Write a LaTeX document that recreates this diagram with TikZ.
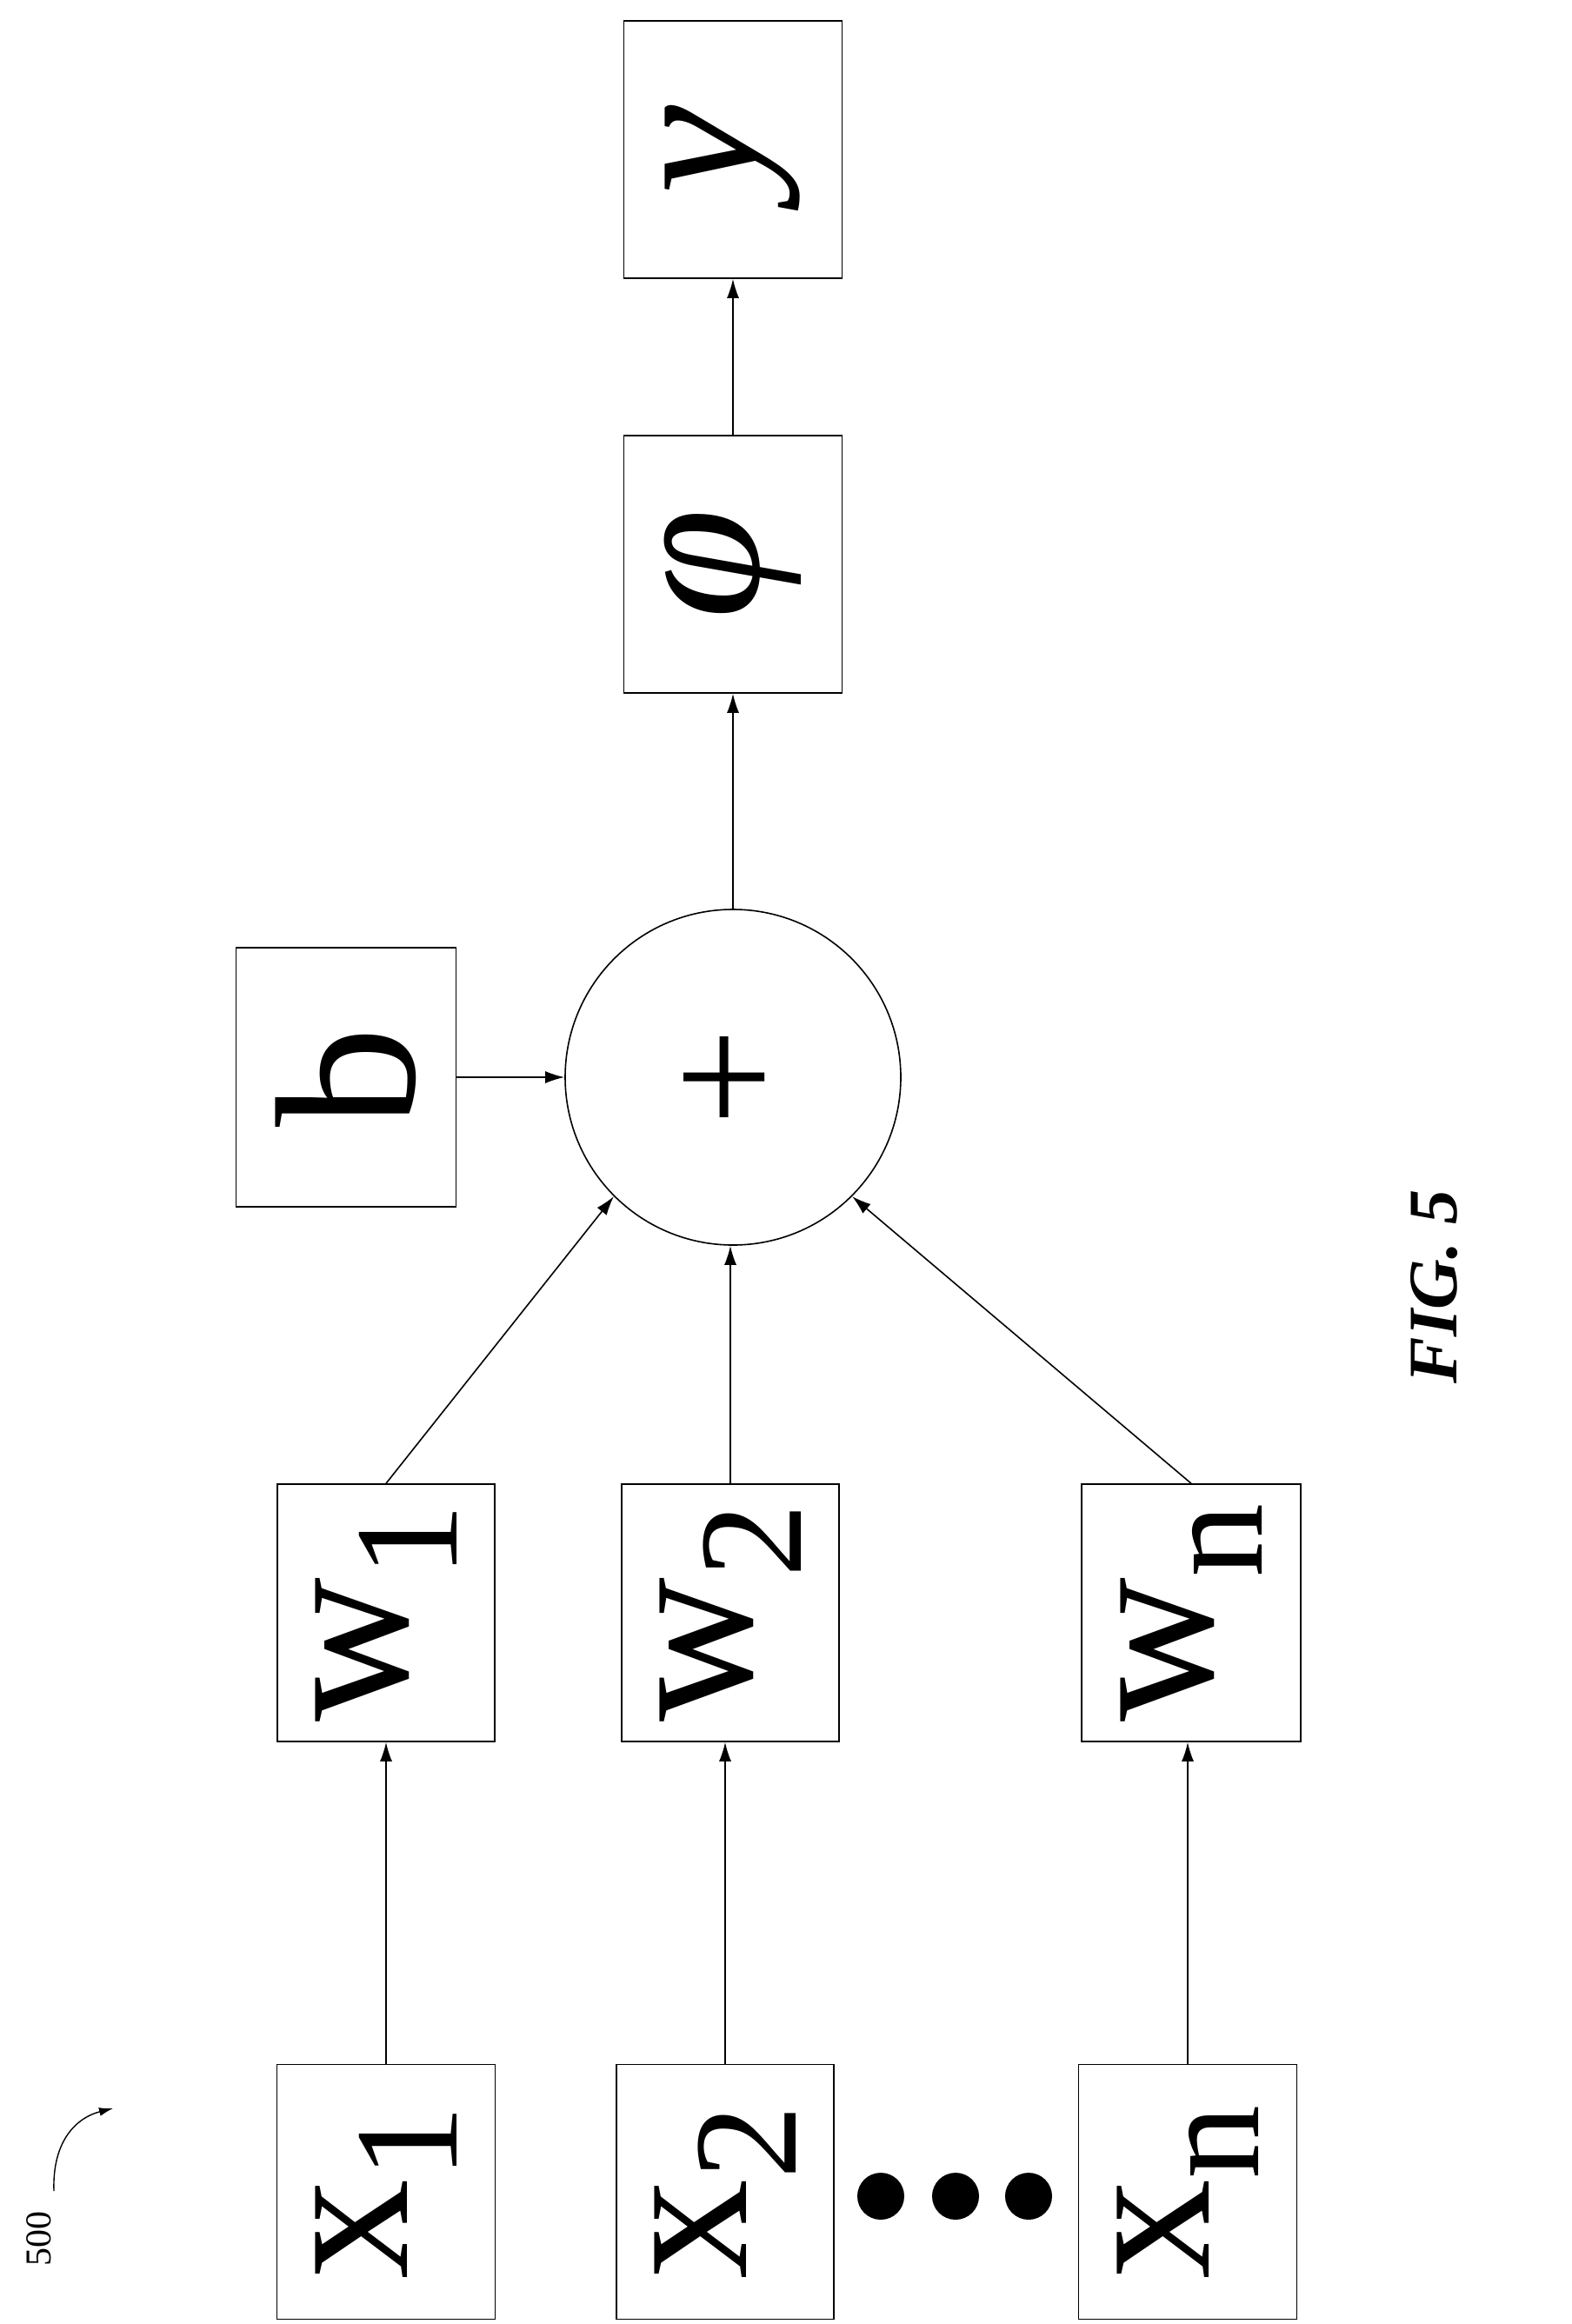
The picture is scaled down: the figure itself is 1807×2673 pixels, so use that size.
\documentclass[tikz,border=0pt]{standalone}
\usepackage{fontspec}
\setmainfont{Liberation Serif}
\usetikzlibrary{arrows.meta}
\begin{document}
\begin{tikzpicture}[x=1pt,y=-1pt,
  box/.style={draw,line width=1.6pt,inner sep=0pt},
  lbl/.style={rotate=90,font=\fontsize{230}{230}\selectfont},
  arr/.style={-{Latex[length=22pt,width=14pt]},line width=1.6pt}]
\useasboundingbox (0,0) rectangle (1807,2673);
\newcommand{\sbx}[1]{\raisebox{-0.25em}{\fontsize{170}{170}\selectfont #1}}
% boxes
\node[box,minimum width=251pt,minimum height=296pt] (y) at (843,172) {};
\node[box,minimum width=251pt,minimum height=296pt] (phi) at (843,649) {};
\node[box,circle,minimum size=386pt] (sum) at (843,1239) {};
\node[box,minimum width=253pt,minimum height=298pt] (b) at (398,1239) {};
\node[box,minimum width=250pt,minimum height=296pt] (w1) at (444,1855) {};
\node[box,minimum width=250pt,minimum height=296pt] (w2) at (840,1855) {};
\node[box,minimum width=252pt,minimum height=296pt] (wn) at (1370,1855) {};
\node[box,minimum width=251pt,minimum height=293pt] (x1) at (444,2521) {};
\node[box,minimum width=250pt,minimum height=293pt] (x2) at (834,2521) {};
\node[box,minimum width=251pt,minimum height=293pt] (xn) at (1366,2521) {};
% labels
\node[lbl] at (y) {\itshape y};
\node[lbl] at (phi) {\itshape φ};
\node[lbl,font=\fontsize{200}{200}\selectfont] at (sum) {+};
\node[lbl] at (b) {b};
\node[lbl] at (w1) {w\sbx{1}};
\node[lbl] at (w2) {w\sbx{2}};
\node[lbl] at (wn) {w\sbx{n}};
\node[lbl] at (x1) {x\sbx{1}};
\node[lbl] at (x2) {x\sbx{2}};
\node[lbl] at (xn) {x\sbx{n}};
% dots
\fill (1013,2526) circle (27);
\fill (1099,2526) circle (27);
\fill (1183,2526) circle (27);
% connectors
\draw[arr] (x1.north) -- (x1.north |- w1.south);
\draw[arr] (x2.north) -- (x2.north |- w2.south);
\draw[arr] (xn.north) -- (xn.north |- wn.south);
\draw[arr] (w1.north) -- (sum.225);
\draw[arr] (w2.north) -- (w2.north |- sum.south);
\draw[arr] (wn.north) -- (sum.-45);
\draw[arr] (b.east) -- (sum.west);
\draw[arr] (sum.north) -- (phi.south);
\draw[arr] (phi.north) -- (y.south);
% figure label
\node[rotate=90,font=\fontsize{80}{80}\selectfont\bfseries\itshape] (fig) at (1650,1480) {FIG. 5};
\node[rotate=90,font=\fontsize{42}{42}\selectfont] (ref) at (45,2575) {500};
\coordinate (r1) at (62,2520);
\coordinate (r2) at (130,2425);
\draw[line width=1.4pt,-{Latex[length=16pt,width=10pt]}] (r1) .. controls (60,2460) and (90,2435) .. (r2);
\end{tikzpicture}
\end{document}
